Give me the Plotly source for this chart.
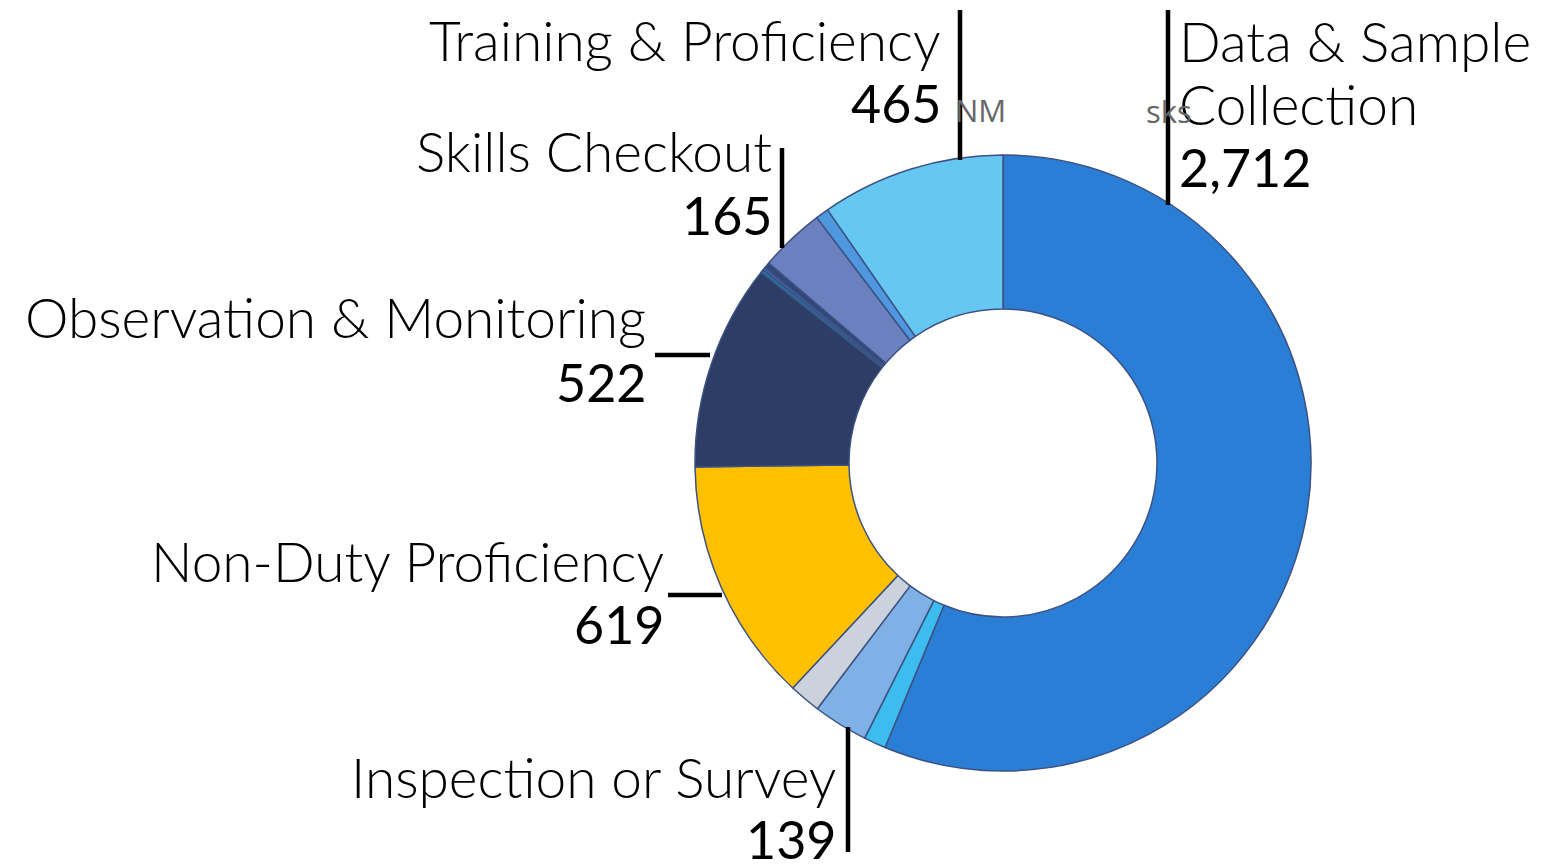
import plotly.graph_objects as go

W, H = 1549, 868
OFF = 8  # page body margin in the browser

# Data (clockwise from 12 o'clock)
categories = ["Data & Sample Collection", "Other A", "Inspection or Survey", "Other B",
              "Non-Duty Proficiency", "Observation & Monitoring", "Other C", "Other D",
              "Other E", "Skills Checkout", "Other F", "Training & Proficiency"]
values = [2712, 56, 139, 80, 619, 522, 8, 8, 14, 165, 33, 465]
colors = ["#2B7ED6", "#3DBDEF", "#7FB1E6", "#CBD2DC", "#FFC000", "#2D3D66",
          "#1F7FAA", "#3F5FA8", "#33467A", "#6B80BF", "#4F97DE", "#66C7F2"]

# label lines: (name lines, value, x anchor px, cap-top px of each name line, cap-top of value, side)
label_items = [
    (["Training & Proficiency"], 465, 943, [22], 86, "right"),
    (["Data & Sample", "Collection"], 2712, 1177, [23, 86], 150, "left"),
    (["Skills Checkout"], 165, 774, [133], 198, "right"),
    (["Observation & Monitoring"], 522, 648, [299], 365, "right"),
    (["Non-Duty Proficiency"], 619, 666, [543], 607, "right"),
    (["Inspection or Survey"], 139, 838, [759], 822, "right"),
]
small_tags = [("NM", 980, 110), ("sks", 1169, 111)]
leaders = [((960, 10), (960, 160)), ((1168, 10), (1168, 205)), ((782, 148), (782, 248)),
           ((655, 355), (710, 355)), ((668, 595), (722, 595)), ((848, 727), (848, 852))]

NAME_SIZE, NUM_SIZE = 55, 52
TOPK = 0.31  # distance from annotation box top to cap top, in em


def px(x):
    return (x - OFF) / W


def py(y):
    return 1 - (y - OFF) / H


cx, cy, r = 1003, 463, 308

fig = go.Figure(go.Pie(
    labels=categories, values=values, sort=False, direction="clockwise", rotation=0,
    hole=0.5, textinfo="none", hoverinfo="label+value",
    marker=dict(colors=colors, line=dict(color="#3B5282", width=1.5)),
    domain=dict(x=[px(cx - r), px(cx + r)], y=[py(cy + r), py(cy - r)]),
    showlegend=False,
))


def add_line(text, x, cap_top, side, size, weight):
    fig.add_annotation(
        x=px(x), y=py(cap_top - TOPK * size), xref="paper", yref="paper",
        xanchor=side, yanchor="top", align=side, showarrow=False, text=text,
        font=dict(family="Lato", size=size, color="#000000", weight=weight),
    )


for names, val, x, tops, numtop, side in label_items:
    for name, top in zip(names, tops):
        add_line(name, x, top, side, NAME_SIZE, 300)
    add_line(f"{val:,}", x, numtop, side, NUM_SIZE, 400)

for t, x, y in small_tags:
    fig.add_annotation(x=px(x), y=py(y), xref="paper", yref="paper", showarrow=False,
                       xanchor="center", yanchor="middle",
                       text=t, font=dict(family="Open Sans", size=31, color="#666666"))

for (x0, y0), (x1, y1) in leaders:
    fig.add_shape(type="line", xref="paper", yref="paper",
                  x0=px(x0), y0=py(y0), x1=px(x1), y1=py(y1),
                  line=dict(color="#000000", width=4.5))

fig.update_layout(width=W, height=H, margin=dict(l=0, r=0, t=0, b=0),
                  paper_bgcolor="white", plot_bgcolor="white")
fig.write_html("out.html")
